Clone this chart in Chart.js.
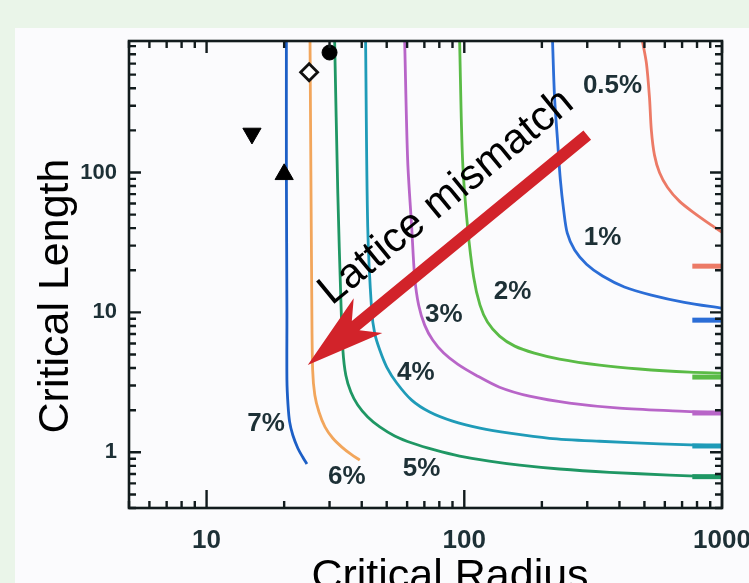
<!DOCTYPE html>
<html>
<head>
<meta charset="utf-8">
<script src="https://cdn.jsdelivr.net/npm/chart.js@4.4.1/dist/chart.umd.min.js"></script>
<style>
html,body{margin:0;padding:0;background:#eaf5e9;}
#wrap{width:749px;height:583px;position:relative;overflow:hidden;}
canvas{display:block;}
</style>
</head>
<body>
<div id="wrap"><canvas id="c" width="749" height="583"></canvas></div>
<script>
// ---------- data ----------
const xTickLabels = [10, 100, 1000];
const yTickLabels = [1, 10, 100];
const xRange = [5, 1000];
const yRange = [0.4, 870];

const seriesNames = ['7%', '6%', '5%', '4%', '3%', '2%', '1%', '0.5%'];

const curve7  = [[20.4,870],[20.4,100],[20.5,10],[20.5,3.28],[20.7,2.18],[21.0,1.65],[21.6,1.33],[22.6,1.07],[23.6,0.925],[24.5,0.825]];
const curve6  = [[25.2,870],[25.6,12.2],[25.8,3.87],[26.3,2.57],[27.3,1.94],[28.8,1.52],[30.9,1.26],[33.5,1.09],[36.3,0.97],[39.3,0.88]];
const curve5  = [[31.4,870],[32.3,71],[33.2,12.2],[33.8,5.38],[34.7,3.56],[36.3,2.70],[38.6,2.18],[42.2,1.79],[47.0,1.52],[53.7,1.31],[63.1,1.16],[76.7,1.04],[95.9,0.94],[125,0.866],[164,0.81],[234,0.76],[366,0.72],[625,0.688],[1000,0.665]];
const curve4  = [[41.4,870],[42.2,40.7],[43.7,10.4],[44.9,7.11],[47.0,5.38],[50,4.07],[54.7,3.13],[62.5,2.36],[73.4,1.94],[90.1,1.67],[115,1.49],[150,1.37],[214,1.26],[335,1.20],[572,1.15],[1000,1.11]];
const curve3  = [[58.7,870],[60.3,122],[62.5,40.7],[64.2,17.9],[66.5,11.3],[70.2,8.11],[75.4,6.34],[83.2,5.12],[94.2,4.27],[111,3.56],[137,2.92],[179,2.52],[256,2.25],[400,2.07],[683,1.97],[1000,1.91]];
const curve2  = [[95.9,870],[98.5,122],[103,40.7],[108.7,17.9],[115,11.3],[123,8.53],[137,6.77],[157,5.74],[187,5.12],[234,4.64],[335,4.2],[478,3.94],[747,3.74],[1000,3.68]];
const curve1  = [[220,870],[224,345],[230,170],[236,88],[243,53.8],[251,36.8],[268,27.9],[298,22.1],[344,18.2],[418,15.2],[532,13.3],[714,11.8],[1000,10.7]];
const curve05 = [[491,870],[509,604],[523,345],[532,200],[547,133],[572,100],[614,78.5],[683,62.4],[781,51.2],[909,42.0],[1000,37.4]];

// short asymptote marks at the right edge: series, level
const stubSeries = ['0.5%', '1%', '2%', '3%', '4%', '5%'];
const stubLevels = [21.4, 8.8, 3.45, 1.91, 1.11, 0.67];
const stubX = [767, 1000];

// experimental points
const circlePoint   = [[30, 720]];
const diamondPoint  = [[25, 520]];
const downTriPoint  = [[15, 190]];
const upTriPoint    = [[20, 97]];

// curve labels (data coordinates)
const labelText = ['0.5%', '1%', '2%', '3%', '4%', '5%', '6%', '7%'];
const labelX    = [376, 344, 154, 83.2, 64.8, 68.3, 35, 17.0];
const labelY    = [413, 33.9, 14.0, 9.6, 3.7, 0.76, 0.67, 1.59];

// arrow + its caption (data coordinates)
const arrowTail = [300, 185];
const arrowTip  = [24.7, 4.2];
const captionText = 'Lattice mismatch';
const captionAt = [91, 57.4];

// ---------- styles ----------
const curveColors = {
  '7%': '#1d5fc6', '6%': '#f2a65c', '5%': '#1f9764', '4%': '#1f9bb8',
  '3%': '#b865c8', '2%': '#5abb46', '1%': '#2b6dd6', '0.5%': '#ec7a66'
};
const curves = {'7%':curve7,'6%':curve6,'5%':curve5,'4%':curve4,'3%':curve3,'2%':curve2,'1%':curve1,'0.5%':curve05};
const FONT = '"Liberation Sans", Arial, Helvetica, sans-serif';
const tickColor = '#1d3036';

const toPts = arr => arr.map(p => ({x: p[0], y: p[1]}));

const datasets = [];
datasets.push({label:'circle', data: toPts(circlePoint), pointStyle:'circle', pointRadius:7.5, backgroundColor:'#000', borderColor:'#000', borderWidth:1, showLine:false, order:0});
datasets.push({label:'diamond', data: toPts(diamondPoint), pointStyle:'rectRot', pointRadius:8.5, backgroundColor:'#fff', borderColor:'#111', borderWidth:2.8, showLine:false, order:0});
datasets.push({label:'down', data: toPts(downTriPoint), pointStyle:'triangle', rotation:180, pointRadius:10.5, backgroundColor:'#000', borderColor:'#000', borderWidth:1, showLine:false, order:0});
datasets.push({label:'up', data: toPts(upTriPoint), pointStyle:'triangle', pointRadius:10.5, backgroundColor:'#000', borderColor:'#000', borderWidth:1, showLine:false, order:0});

seriesNames.forEach(name => {
  datasets.push({label:name, data: toPts(curves[name]), showLine:true, borderColor:curveColors[name], borderWidth:2.8, pointRadius:0, tension:0.3, fill:false, order:1});
});
stubSeries.forEach((name, i) => {
  datasets.push({label:name + ' limit', data: stubX.map(x => ({x, y: stubLevels[i]})), showLine:true, borderColor:curveColors[name], borderWidth:5, pointRadius:0, fill:false, order:1});
});

const bgPlugin = {
  id: 'bg',
  beforeDraw(chart) {
    const c = chart.ctx;
    c.save();
    c.fillStyle = '#eaf5e9';
    c.fillRect(0, 0, chart.width, chart.height);
    c.fillStyle = '#fbfbfd';
    c.fillRect(15, 28, chart.width - 15, chart.height - 28);
    c.restore();
  }
};

const framePlugin = {
  id: 'frame',
  afterDatasetsDraw(chart) {
    const {ctx, chartArea: a, scales: {x, y}} = chart;
    ctx.save();
    ctx.strokeStyle = '#121b1d';
    ctx.lineWidth = 2.6;
    ctx.strokeRect(a.left, a.top, a.right - a.left, a.bottom - a.top);
    ctx.lineWidth = 2.4;
    ctx.beginPath();
    for (let e = -1; e <= 3; e++) {
      for (let m = 1; m <= 9; m++) {
        const v = +(m * Math.pow(10, e)).toPrecision(6);
        const major = m === 1;
        if (v >= x.min && v <= x.max) {
          const px = x.getPixelForValue(v);
          ctx.moveTo(px, a.bottom); ctx.lineTo(px, a.bottom - (major ? 18 : 7));
          ctx.moveTo(px, a.top); ctx.lineTo(px, a.top + (major ? 12 : 7));
        }
        if (v >= y.min && v <= y.max) {
          const py = y.getPixelForValue(v);
          ctx.moveTo(a.left, py); ctx.lineTo(a.left + (major ? 12 : 7), py);
          ctx.moveTo(a.right, py); ctx.lineTo(a.right - (major ? 12 : 7), py);
        }
      }
    }
    ctx.stroke();
    ctx.restore();
  }
};

const annotPlugin = {
  id: 'annot',
  afterDatasetsDraw(chart) {
    const {ctx, scales: {x, y}} = chart;
    ctx.save();
    ctx.fillStyle = '#1d3036';
    ctx.font = 'bold 26px ' + FONT;
    ctx.textAlign = 'center';
    ctx.textBaseline = 'middle';
    labelText.forEach((t, i) => {
      ctx.fillText(t, x.getPixelForValue(labelX[i]), y.getPixelForValue(labelY[i]));
    });
    const tx = x.getPixelForValue(arrowTail[0]), ty = y.getPixelForValue(arrowTail[1]);
    const hx = x.getPixelForValue(arrowTip[0]), hy = y.getPixelForValue(arrowTip[1]);
    const dx = tx - hx, dy = ty - hy, L = Math.hypot(dx, dy);
    const ux = dx / L, uy = dy / L, nx = -uy, ny = ux;
    const P = (a, b) => [hx + ux * a + nx * b, hy + uy * a + ny * b];
    const pts = [P(0,0), P(78,-22.5), P(62,-6), P(L,-6), P(L,6), P(62,6), P(78,22.5)];
    ctx.fillStyle = '#d2232a';
    ctx.beginPath();
    pts.forEach((p, i) => i ? ctx.lineTo(p[0], p[1]) : ctx.moveTo(p[0], p[1]));
    ctx.closePath();
    ctx.fill();
    ctx.fillStyle = '#000';
    ctx.font = '42px ' + FONT;
    ctx.textAlign = 'center';
    ctx.textBaseline = 'alphabetic';
    ctx.translate(x.getPixelForValue(captionAt[0]), y.getPixelForValue(captionAt[1]));
    ctx.rotate(-39.3 * Math.PI / 180);
    ctx.fillText(captionText, 0, 0);
    ctx.restore();
  },
  afterDraw(chart) {
    const ctx = chart.ctx;
    ctx.save();
    ctx.fillStyle = '#000';
    ctx.font = '43px ' + FONT;
    ctx.textAlign = 'center';
    ctx.textBaseline = 'alphabetic';
    ctx.fillText('Critical Radius', 450, 589);
    ctx.translate(68, 296);
    ctx.rotate(-Math.PI / 2);
    ctx.fillText('Critical Length', 0, 0);
    ctx.restore();
  }
};

new Chart(document.getElementById('c'), {
  type: 'scatter',
  data: { datasets },
  options: {
    responsive: false,
    devicePixelRatio: 1,
    animation: false,
    events: [],
    layout: { padding: { left: 0, top: 41, right: 27, bottom: 0 } },
    plugins: { legend: { display: false }, tooltip: { enabled: false } },
    scales: {
      x: {
        type: 'logarithmic', min: xRange[0], max: xRange[1], position: 'bottom',
        grid: { display: false, drawTicks: false },
        border: { display: false },
        ticks: {
          autoSkip: false, maxRotation: 0, minRotation: 0, padding: 17,
          color: tickColor, font: { size: 26, weight: 'bold', family: FONT },
          callback: v => xTickLabels.includes(v) ? String(v) : ''
        },
        afterFit(s) { s.height = 75; s.paddingLeft = 0; s.paddingRight = 0; }
      },
      y: {
        type: 'logarithmic', min: yRange[0], max: yRange[1], position: 'left',
        grid: { display: false, drawTicks: false },
        border: { display: false },
        ticks: {
          autoSkip: false, padding: 12,
          color: tickColor, font: { size: 22, weight: 'bold', family: FONT },
          callback: v => yTickLabels.includes(v) ? String(v) : ''
        },
        afterFit(s) { s.width = 129; s.paddingTop = 0; s.paddingBottom = 0; }
      }
    }
  },
  plugins: [bgPlugin, framePlugin, annotPlugin]
});
</script>
</body>
</html>
